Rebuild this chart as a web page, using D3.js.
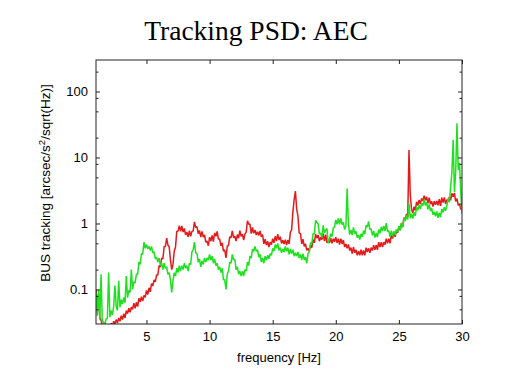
<!DOCTYPE html>
<html>
<head>
<meta charset="utf-8">
<script src="https://cdn.jsdelivr.net/npm/d3@7/dist/d3.min.js"></script>
<style>
  body { margin: 0; background: #fff; }
  svg { display: block; }
  .tick text { font-family: "Liberation Sans", Arial, sans-serif; font-size: 13px; fill: #000; }
</style>
</head>
<body>
<svg width="512" height="384"></svg>
<script>
// frequency grid [Hz], one sample every 0.1 Hz from 1 to 30
var freqStart = 1.0;
var freqStep = 0.1;

// PSD, red trace
var redPsd = [
  0.10, 0.05, 0.085, 0.038, 0.034, 0.029, 0.030, 0.027, 0.030, 0.026,
  0.029, 0.026, 0.031, 0.027, 0.033, 0.030, 0.035, 0.031, 0.037, 0.033,
  0.040, 0.035, 0.043, 0.037, 0.048, 0.043, 0.052, 0.045, 0.054, 0.050,
  0.062, 0.052, 0.064, 0.055, 0.074, 0.065, 0.078, 0.067, 0.081, 0.076,
  0.097, 0.084, 0.106, 0.092, 0.123, 0.113, 0.140, 0.130, 0.166, 0.166,
  0.23, 0.22, 0.30, 0.29, 0.45, 0.45, 0.60, 0.47, 0.44, 0.28,
  0.20, 0.24, 0.38, 0.44, 0.76, 0.77, 0.93, 0.76, 0.92, 0.74,
  0.84, 0.67, 0.74, 0.63, 0.78, 0.64, 0.76, 0.77, 1.06, 0.87,
  0.90, 0.70, 0.78, 0.62, 0.76, 0.62, 0.67, 0.52, 0.54, 0.46,
  0.62, 0.54, 0.66, 0.53, 0.72, 0.64, 0.76, 0.58, 0.58, 0.46,
  0.51, 0.38, 0.40, 0.30, 0.45, 0.47, 0.63, 0.61, 0.77, 0.61,
  0.64, 0.54, 0.68, 0.60, 0.78, 0.64, 0.69, 0.56, 0.69, 0.74,
  1.10, 0.97, 0.98, 0.70, 0.87, 0.71, 0.80, 0.67, 0.75, 0.66,
  0.77, 0.63, 0.68, 0.49, 0.58, 0.47, 0.54, 0.44, 0.52, 0.48,
  0.59, 0.51, 0.64, 0.54, 0.69, 0.56, 0.63, 0.50, 0.56, 0.49,
  0.57, 0.47, 0.56, 0.49, 0.74, 0.80, 1.5, 2.3, 3.1, 1.65,
  1.3, 0.72, 0.70, 0.49, 0.58, 0.45, 0.49, 0.39, 0.42, 0.38,
  0.47, 0.43, 0.57, 0.51, 0.69, 0.60, 0.67, 0.54, 0.62, 0.57,
  0.70, 0.54, 0.68, 0.51, 0.54, 0.51, 0.60, 0.50, 0.59, 0.53,
  0.62, 0.51, 0.59, 0.48, 0.59, 0.49, 0.56, 0.44, 0.49, 0.42,
  0.48, 0.39, 0.43, 0.35, 0.44, 0.36, 0.40, 0.33, 0.38, 0.33,
  0.40, 0.33, 0.39, 0.33, 0.43, 0.37, 0.42, 0.36, 0.43, 0.39,
  0.47, 0.40, 0.47, 0.40, 0.52, 0.44, 0.52, 0.44, 0.52, 0.48,
  0.59, 0.50, 0.59, 0.50, 0.67, 0.59, 0.71, 0.63, 0.77, 0.72,
  0.90, 0.79, 1.00, 0.88, 1.23, 1.13, 1.40, 1.26, 13.0, 2.8,
  1.65, 1.44, 1.80, 1.58, 2.13, 1.88, 2.27, 1.98, 2.39, 2.21,
  2.64, 2.25, 2.54, 2.02, 2.46, 1.97, 2.16, 1.80, 2.18, 1.93,
  2.20, 1.89, 2.33, 1.85, 2.46, 2.07, 2.48, 1.98, 2.29, 2.21,
  2.53, 2.25, 2.86, 2.55, 2.91, 2.16, 2.38, 1.89, 1.98, 1.66, 1.6
];

// green trace
var greenPsd = [
  0.09, 0.04, 0.10, 0.035, 0.17, 0.033, 0.032, 0.029, 0.036, 0.037,
  0.18, 0.038, 0.048, 0.041, 0.056, 0.115, 0.056, 0.048, 0.135, 0.054,
  0.070, 0.060, 0.076, 0.063, 0.16, 0.075, 0.097, 0.09, 0.20, 0.10,
  0.13, 0.126, 0.17, 0.17, 0.26, 0.24, 0.35, 0.34, 0.52, 0.42,
  0.48, 0.41, 0.45, 0.39, 0.45, 0.36, 0.37, 0.29, 0.31, 0.26,
  0.30, 0.23, 0.25, 0.20, 0.25, 0.21, 0.22, 0.17, 0.18, 0.14,
  0.09, 0.135, 0.18, 0.16, 0.21, 0.18, 0.23, 0.19, 0.23, 0.20,
  0.25, 0.21, 0.23, 0.19, 0.25, 0.24, 0.37, 0.40, 0.52, 0.36,
  0.35, 0.26, 0.29, 0.22, 0.27, 0.24, 0.30, 0.26, 0.30, 0.28,
  0.34, 0.28, 0.32, 0.25, 0.29, 0.23, 0.25, 0.20, 0.22, 0.18,
  0.21, 0.14, 0.14, 0.10, 0.17, 0.19, 0.26, 0.25, 0.34, 0.28,
  0.29, 0.20, 0.22, 0.17, 0.19, 0.16, 0.19, 0.16, 0.20, 0.19,
  0.26, 0.23, 0.32, 0.30, 0.41, 0.38, 0.45, 0.38, 0.40, 0.31,
  0.34, 0.26, 0.30, 0.25, 0.32, 0.28, 0.33, 0.29, 0.35, 0.33,
  0.42, 0.38, 0.48, 0.42, 0.50, 0.39, 0.43, 0.36, 0.41, 0.37,
  0.45, 0.38, 0.43, 0.34, 0.41, 0.35, 0.40, 0.32, 0.36, 0.32,
  0.37, 0.30, 0.34, 0.28, 0.35, 0.28, 0.31, 0.25, 0.35, 0.37,
  0.51, 0.50, 0.70, 0.70, 1.12, 1.03, 0.99, 0.70, 0.71, 0.61,
  0.94, 0.72, 0.80, 0.84, 0.50, 0.58, 0.70, 0.63, 0.85, 0.88,
  1.13, 0.97, 1.19, 0.97, 1.19, 0.96, 1.04, 0.81, 0.92, 3.4,
  1.0, 0.68, 0.80, 0.67, 0.87, 0.70, 0.76, 0.61, 0.67, 0.57,
  0.70, 0.63, 0.78, 0.69, 0.94, 0.88, 1.08, 0.81, 0.83, 0.66,
  0.77, 0.61, 0.72, 0.62, 0.81, 0.71, 0.89, 0.77, 0.92, 0.77,
  1.01, 0.76, 0.78, 0.63, 0.78, 0.64, 0.76, 0.67, 0.81, 0.74,
  0.90, 0.79, 1.02, 0.88, 1.21, 1.09, 1.32, 1.15, 2.0, 1.2,
  1.41, 1.19, 1.48, 1.30, 1.77, 1.58, 1.90, 1.66, 2.02, 1.86,
  2.31, 1.87, 2.10, 1.64, 1.95, 1.54, 1.71, 1.35, 1.50, 1.29,
  1.52, 1.22, 1.46, 1.25, 1.66, 1.47, 1.77, 1.55, 1.87, 2.4,
  2.1, 3.6, 6.0, 18.6, 3.0, 6.0, 33, 6.5, 8.3, 3.0, 1.4
];

// ticks
var xTicks = [5, 10, 15, 20, 25, 30];
var yTicks = [0.1, 1, 10, 100];
var yMinor = [0.05, 0.08, 0.2, 0.5, 0.8, 2, 5, 8, 20, 50, 80, 200];

var svg = d3.select("svg");
var plotL = 96, plotR = 462, plotT = 60, plotB = 324;

var x = d3.scaleLinear().domain([1, 30]).range([plotL, plotR]);
var y = d3.scaleLog().domain([0.03, 300]).range([plotB, plotT]);

// title
svg.append("text")
  .attr("x", 256).attr("y", 40)
  .attr("text-anchor", "middle")
  .attr("font-family", "'Liberation Serif', 'Times New Roman', serif")
  .attr("font-size", 27.5)
  .text("Tracking PSD: AEC");

// clip for data
svg.append("clipPath").attr("id", "plotclip")
  .append("rect").attr("x", plotL).attr("y", plotT).attr("width", plotR - plotL).attr("height", plotB - plotT);

var line = d3.line()
  .x(function(d, i) { return x(freqStart + i * freqStep); })
  .y(function(d) { return y(d); });

var plot = svg.append("g").attr("clip-path", "url(#plotclip)");
plot.append("path").datum(redPsd)
  .attr("fill", "none").attr("stroke", "#e41a1a").attr("stroke-width", 1.5)
  .attr("stroke-linejoin", "bevel")
  .attr("d", line);
plot.append("path").datum(greenPsd)
  .attr("fill", "none").attr("stroke", "#1ee11e").attr("stroke-width", 1.5)
  .attr("stroke-linejoin", "bevel")
  .attr("d", line);

// axes, ticks point inward
svg.append("g").attr("transform", "translate(0," + plotB + ")")
  .call(d3.axisBottom(x).tickValues(xTicks).tickSizeInner(-4).tickSizeOuter(0).tickPadding(8).tickFormat(d3.format("d")));
svg.append("g").attr("transform", "translate(0," + plotT + ")")
  .call(d3.axisTop(x).tickValues(xTicks).tickSizeInner(-4).tickSizeOuter(0).tickFormat(""));

svg.append("g").attr("transform", "translate(" + plotL + ",0)")
  .call(d3.axisLeft(y).tickValues(yTicks).tickSizeInner(-4).tickSizeOuter(0).tickPadding(8).tickFormat(function(d) { return d3.format("~g")(d); }));
svg.append("g").attr("transform", "translate(" + plotR + ",0)")
  .call(d3.axisRight(y).tickValues(yTicks).tickSizeInner(-4).tickSizeOuter(0).tickFormat(""));
svg.append("g").attr("transform", "translate(" + plotL + ",0)")
  .call(d3.axisLeft(y).tickValues(yMinor).tickSizeInner(-2.5).tickSizeOuter(0).tickFormat(""));
svg.append("g").attr("transform", "translate(" + plotR + ",0)")
  .call(d3.axisRight(y).tickValues(yMinor).tickSizeInner(-2.5).tickSizeOuter(0).tickFormat(""));

svg.selectAll(".domain").remove();
svg.selectAll(".tick line").attr("stroke", "#222");

// frame
svg.append("rect")
  .attr("x", plotL).attr("y", plotT).attr("width", plotR - plotL).attr("height", plotB - plotT)
  .attr("fill", "none").attr("stroke", "#222").attr("stroke-width", 1);

// axis labels
svg.append("text")
  .attr("x", 279).attr("y", 362)
  .attr("text-anchor", "middle")
  .attr("font-family", "'Liberation Sans', Arial, sans-serif")
  .attr("font-size", 13)
  .text("frequency [Hz]");

var ylab = svg.append("text")
  .attr("transform", "translate(50,183) rotate(-90)")
  .attr("text-anchor", "middle")
  .attr("font-family", "'Liberation Sans', Arial, sans-serif")
  .attr("font-size", 13.5);
ylab.append("tspan").text("BUS tracking [arcsec/s");
ylab.append("tspan").attr("font-size", 9.5).attr("dy", -5.5).text("2");
ylab.append("tspan").attr("dy", 5.5).text("/sqrt(Hz)]");
</script>
</body>
</html>
